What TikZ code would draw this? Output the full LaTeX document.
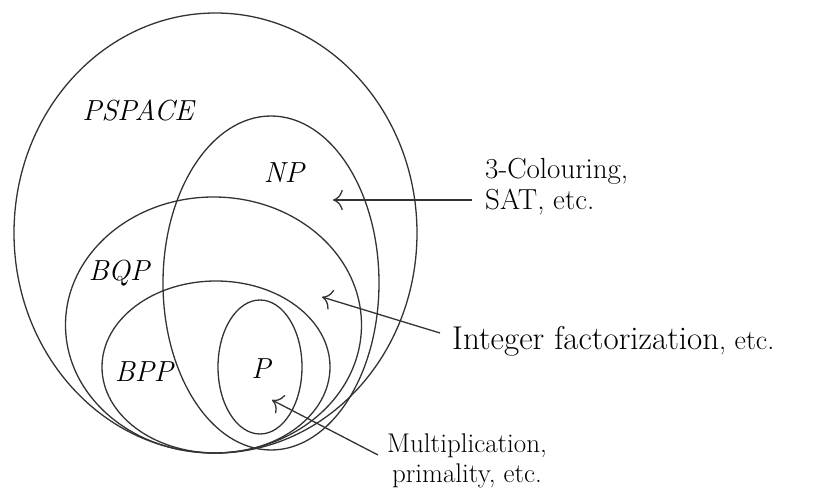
\documentclass[tikz,border=0pt]{standalone}
\usepackage{fontspec}
\usetikzlibrary{arrows.meta}
\tikzset{
  cls/.style={draw=black!80, line width=1.3pt},
  lab/.style={inner sep=0pt, font=\fontsize{29}{34}\selectfont\itshape},
  note/.style={inner sep=0pt, font=\fontsize{29}{31}\selectfont, align=left},
  arr/.style={draw=black!80, line width=1.3pt, -{To[scale=2.2]}},
}
\begin{document}
\begin{tikzpicture}[x=1pt,y=-1pt]
\useasboundingbox (0,0) rectangle (828,495);
% classes
\draw[cls] (215.5,233) ellipse [x radius=201.5pt, y radius=220pt];
\draw[cls] (271,283) ellipse [x radius=108pt, y radius=167pt];
\draw[cls] (213.5,325) ellipse [x radius=148pt, y radius=128pt];
\draw[cls] (216,367) ellipse [x radius=114pt, y radius=86pt];
\draw[cls] (260,367) ellipse [x radius=42pt, y radius=67pt];
% labels
\node[lab] (lps) at (138,110) {PSPACE};
\node[lab] (lnp) at (284,173) {NP};
\node[lab] (lbqp) at (119,273) {BQP};
\node[lab] (lbpp) at (144,372) {BPP};
\node[lab] (lp) at (261,369) {P};
% notes
\node[note, anchor=west] (sat) at (485,187) {3-Colouring,\\SAT, etc.};
\node[inner sep=0pt, anchor=west] (fac) at (452,341)
  {{\fontsize{33}{38}\selectfont Integer factorization}{\fontsize{28}{33}\selectfont, etc.}};
\node[inner sep=0pt, align=center, font=\fontsize{27}{30}\selectfont, anchor=west] (mul) at (387,461)
  {Multiplication,\\primality, etc.};
% arrow tips
\coordinate (tnp) at (333,200);
\coordinate (tfac) at (322,297);
\coordinate (tp) at (272,400);
\draw[arr] ([shift={(-13,13)}]sat.west) -- (tnp);
\draw[arr] ([shift={(-12,-8)}]fac.west) -- (tfac);
\draw[arr] ([shift={(-9,-6)}]mul.west) -- (tp);
\end{tikzpicture}
\end{document}
